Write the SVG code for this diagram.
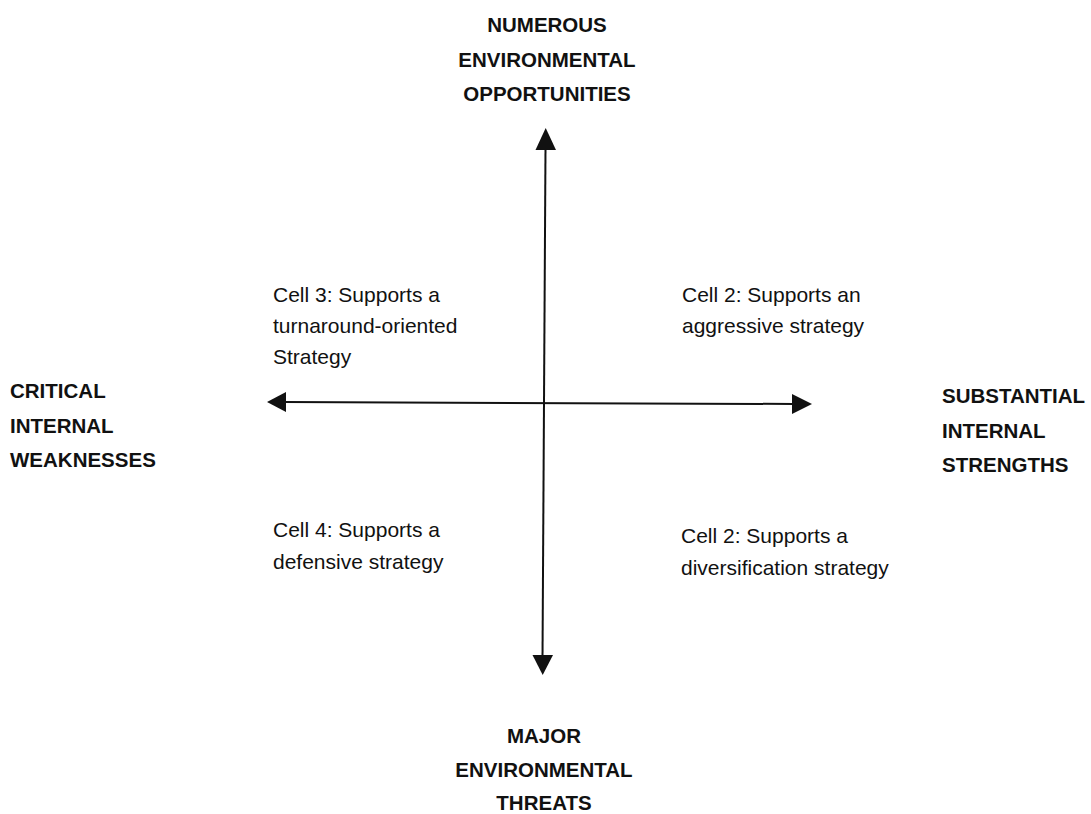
<svg xmlns="http://www.w3.org/2000/svg" width="1091" height="814" viewBox="0 0 1091 814">
  <style>
    .axis { stroke: #111; stroke-width: 2; fill: none; }
    .head { fill: #111; }
    .pole { font-family: "Liberation Sans", Arial, sans-serif; font-weight: bold; font-size: 20.5px; fill: #111; }
    .cell { font-family: "Liberation Sans", Arial, sans-serif; font-size: 21px; fill: #111; }
    .mid { text-anchor: middle; }
  </style>
  <rect width="1091" height="814" fill="#fff"/>

  <!-- axes with arrowheads -->
  <g id="connectors">
    <line class="axis" x1="545.5" y1="148" x2="542.5" y2="657"/>
    <polygon class="head" points="545.7,128 556,150 535.5,150"/>
    <polygon class="head" points="542.7,675 532.5,655 553,655"/>
    <line class="axis" x1="284" y1="402" x2="794" y2="404"/>
    <polygon class="head" points="267,402 286,392 286,412"/>
    <polygon class="head" points="812,404 792,394 792,414"/>
  </g>

  <!-- axis poles -->
  <g id="pole-top" class="pole mid">
    <text x="547" y="32">NUMEROUS</text>
    <text x="547" y="67">ENVIRONMENTAL</text>
    <text x="547" y="101">OPPORTUNITIES</text>
  </g>
  <g id="pole-left" class="pole">
    <text x="10" y="398">CRITICAL</text>
    <text x="10" y="433">INTERNAL</text>
    <text x="10" y="467">WEAKNESSES</text>
  </g>
  <g id="pole-right" class="pole">
    <text x="942" y="403">SUBSTANTIAL</text>
    <text x="942" y="438">INTERNAL</text>
    <text x="942" y="472">STRENGTHS</text>
  </g>
  <g id="pole-bottom" class="pole mid">
    <text x="544" y="743">MAJOR</text>
    <text x="544" y="777">ENVIRONMENTAL</text>
    <text x="544" y="810">THREATS</text>
  </g>

  <!-- quadrant cells -->
  <g id="cell-3" class="cell">
    <text x="273" y="302">Cell 3: Supports a</text>
    <text x="273" y="333">turnaround-oriented</text>
    <text x="273" y="364">Strategy</text>
  </g>
  <g id="cell-2-top" class="cell">
    <text x="682" y="302">Cell 2: Supports an</text>
    <text x="682" y="333">aggressive strategy</text>
  </g>
  <g id="cell-4" class="cell">
    <text x="273" y="537">Cell 4: Supports a</text>
    <text x="273" y="569">defensive strategy</text>
  </g>
  <g id="cell-2-bottom" class="cell">
    <text x="681" y="543">Cell 2: Supports a</text>
    <text x="681" y="575">diversification strategy</text>
  </g>
</svg>
